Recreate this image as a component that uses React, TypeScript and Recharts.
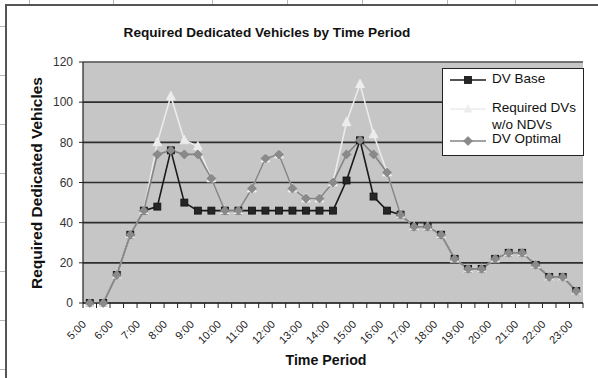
import React from "react";
import {
  LineChart,
  Line,
  XAxis,
  YAxis,
  CartesianGrid,
  ReferenceLine,
} from "recharts";

// half-hour periods, 5:00 through 23:00
const times = [
  "5:00", "5:30", "6:00", "6:30", "7:00", "7:30", "8:00", "8:30", "9:00", "9:30",
  "10:00", "10:30", "11:00", "11:30", "12:00", "12:30", "13:00", "13:30", "14:00", "14:30",
  "15:00", "15:30", "16:00", "16:30", "17:00", "17:30", "18:00", "18:30", "19:00", "19:30",
  "20:00", "20:30", "21:00", "21:30", "22:00", "22:30", "23:00",
];

const dvBase = [
  0, 0, 14, 34, 46, 48, 76, 50, 46, 46,
  46, 46, 46, 46, 46, 46, 46, 46, 46, 61,
  81, 53, 46, 44, 38, 38, 34, 22, 17, 17,
  22, 25, 25, 19, 13, 13, 6,
];

const requiredNoNdv = [
  0, 0, 14, 34, 46, 80, 103, 81, 78, 62,
  46, 46, 57, 72, 74, 57, 52, 52, 60, 90,
  109, 84, 65, 44, 38, 38, 34, 22, 17, 17,
  22, 25, 25, 19, 13, 13, 6,
];

const dvOptimal = [
  0, 0, 14, 34, 46, 74, 76, 74, 74, 62,
  46, 46, 57, 72, 74, 57, 52, 52, 60, 74,
  81, 74, 65, 44, 38, 38, 34, 22, 17, 17,
  22, 25, 25, 19, 13, 13, 6,
];

const yTicks = [0, 20, 40, 60, 80, 100, 120];

const data = times.map((t, i) => ({
  time: t,
  base: dvBase[i],
  required: requiredNoNdv[i],
  optimal: dvOptimal[i],
}));

const FONT = "'Liberation Sans', Arial, sans-serif";

const SquareDot = ({ cx, cy }: any) => (
  <rect x={cx - 3.5} y={cy - 3.5} width={7} height={7} fill="#262626" stroke="#111" strokeWidth={0.8} />
);

const TriangleDot = ({ cx, cy }: any) => (
  <polygon
    points={`${cx},${cy - 5} ${cx + 4.5},${cy + 3.5} ${cx - 4.5},${cy + 3.5}`}
    fill="#ececec"
    stroke="#f6f6f6"
    strokeWidth={0.6}
  />
);

const DiamondDot = ({ cx, cy }: any) => (
  <polygon
    points={`${cx},${cy - 4.5} ${cx + 4.5},${cy} ${cx},${cy + 4.5} ${cx - 4.5},${cy}`}
    fill="#8a8a8a"
    stroke="#7a7a7a"
    strokeWidth={0.6}
  />
);

// tick marks sit between categories, labels every hour
const TimeTick = (props: any) => {
  const { x, y, payload, index, width } = props;
  const half = payload?.offset || width / times.length / 2;
  const lx = x - 3;
  const ly = y + 22;
  return (
    <g>
      <line x1={x - half} x2={x - half} y1={y} y2={y + 5} stroke="#222" />
      {index === times.length - 1 && (
        <line x1={x + half} x2={x + half} y1={y} y2={y + 5} stroke="#222" />
      )}
      {index % 2 === 0 && (
        <text
          x={lx}
          y={ly}
          transform={`rotate(-45, ${lx}, ${ly})`}
          textAnchor="end"
          fontSize={11}
          fontFamily={FONT}
          fill="#222"
        >
          {payload.value}
        </text>
      )}
    </g>
  );
};

const LegendRow = ({ shape, color, top }: { shape: React.ReactNode; color: string; top: number }) => (
  <svg width={36} height={12} style={{ position: "absolute", left: 7, top: top - 6 }}>
    <line x1={0} x2={36} y1={6} y2={6} stroke={color} strokeWidth={1.5} />
    {shape}
  </svg>
);

const legendText: React.CSSProperties = {
  position: "absolute",
  left: 49,
  fontSize: 13.5,
  fontFamily: FONT,
  color: "#111",
  lineHeight: "16px",
  whiteSpace: "nowrap",
};

export default function App() {
  return (
    <div
      style={{
        position: "absolute",
        left: 0,
        top: 0,
        width: 598,
        height: 378,
        overflow: "hidden",
        background: "#fff",
        fontFamily: FONT,
      }}
    >
      {/* worksheet cells peeking out behind the chart */}
      <div
        style={{
          position: "absolute",
          left: 0,
          top: 0,
          width: 6,
          height: 378,
          background: "repeating-linear-gradient(to bottom, transparent 0 26px, #b8b8b8 26px 27px, transparent 27px 49px)",
        }}
      />
      {[29, 113, 212, 287, 362, 447, 515].map((cx) => (
        <div key={cx} style={{ position: "absolute", left: cx, top: 0, width: 1, height: 5, background: "#b8b8b8" }} />
      ))}

      {/* chart area frame */}
      <div
        style={{
          position: "absolute",
          left: 5,
          top: 4,
          width: 600,
          height: 380,
          borderLeft: "2px solid #555",
          borderTop: "2px solid #555",
          background: "#fff",
        }}
      />

      <div style={{ position: "absolute", left: 0, top: 0 }}>
        <LineChart width={598} height={378} data={data} margin={{ top: 62, right: 15, bottom: 0, left: 0 }}>
          <CartesianGrid vertical={false} stroke="#2e2e2e" strokeWidth={1.6} fill="#c6c6c6" />
          <XAxis
            dataKey="time"
            scale="band"
            interval={0}
            height={75}
            tickSize={0}
            tickMargin={0}
            tickLine={false}
            axisLine={{ stroke: "#222", strokeWidth: 1.2 }}
            tick={<TimeTick />}
          />
          <YAxis
            domain={[0, 120]}
            ticks={yTicks}
            interval={0}
            width={83}
            tickSize={4}
            tickMargin={6}
            axisLine={{ stroke: "#222", strokeWidth: 1.2 }}
            tickLine={{ stroke: "#222" }}
            tick={{ fontSize: 12, fill: "#333", fontFamily: FONT }}
          />
          <YAxis
            yAxisId="frame"
            orientation="right"
            domain={[0, 120]}
            width={0}
            tick={false}
            tickLine={false}
            axisLine={{ stroke: "#8a8a8a" }}
          />
          <ReferenceLine y={120} stroke="#8a8a8a" strokeWidth={1} />
          <Line
            dataKey="base"
            name="DV Base"
            stroke="#1a1a1a"
            strokeWidth={1.6}
            dot={(p: any) => <SquareDot key={`b${p.index}`} {...p} />}
            activeDot={false}
            isAnimationActive={false}
          />
          <Line
            dataKey="required"
            name="Required DVs w/o NDVs"
            stroke="#ebebeb"
            strokeWidth={1.6}
            dot={(p: any) => <TriangleDot key={`r${p.index}`} {...p} />}
            activeDot={false}
            isAnimationActive={false}
          />
          <Line
            dataKey="optimal"
            name="DV Optimal"
            stroke="#858585"
            strokeWidth={1.6}
            dot={(p: any) => <DiamondDot key={`o${p.index}`} {...p} />}
            activeDot={false}
            isAnimationActive={false}
          />
        </LineChart>
      </div>

      {/* chart title */}
      <div
        style={{
          position: "absolute",
          left: 267,
          top: 32,
          transform: "translate(-50%, -50%)",
          fontSize: 13.6,
          fontWeight: "bold",
          color: "#111",
          whiteSpace: "nowrap",
        }}
      >
        Required Dedicated Vehicles by Time Period
      </div>

      {/* axis titles */}
      <div
        style={{
          position: "absolute",
          left: 326,
          top: 360,
          transform: "translate(-50%, -50%)",
          fontSize: 14.2,
          fontWeight: "bold",
          color: "#111",
          whiteSpace: "nowrap",
        }}
      >
        Time Period
      </div>
      <div
        style={{
          position: "absolute",
          left: 37,
          top: 183,
          transform: "translate(-50%, -50%) rotate(-90deg)",
          fontSize: 15.5,
          fontWeight: "bold",
          color: "#111",
          whiteSpace: "nowrap",
        }}
      >
        Required Dedicated Vehicles
      </div>

      {/* legend */}
      <div
        style={{
          position: "absolute",
          left: 442,
          top: 68,
          width: 142,
          height: 88,
          boxSizing: "border-box",
          border: "1px solid #222",
          background: "#fff",
        }}
      >
        <LegendRow top={11} color="#1a1a1a" shape={<SquareDot cx={18} cy={6} />} />
        <span style={{ ...legendText, top: 2 }}>DV Base</span>
        <LegendRow top={40} color="#ebebeb" shape={<TriangleDot cx={18} cy={6} />} />
        <span style={{ ...legendText, top: 31 }}>Required DVs</span>
        <span style={{ ...legendText, top: 48 }}>w/o NDVs</span>
        <LegendRow top={72} color="#858585" shape={<DiamondDot cx={18} cy={6} />} />
        <span style={{ ...legendText, top: 62 }}>DV Optimal</span>
      </div>
    </div>
  );
}
